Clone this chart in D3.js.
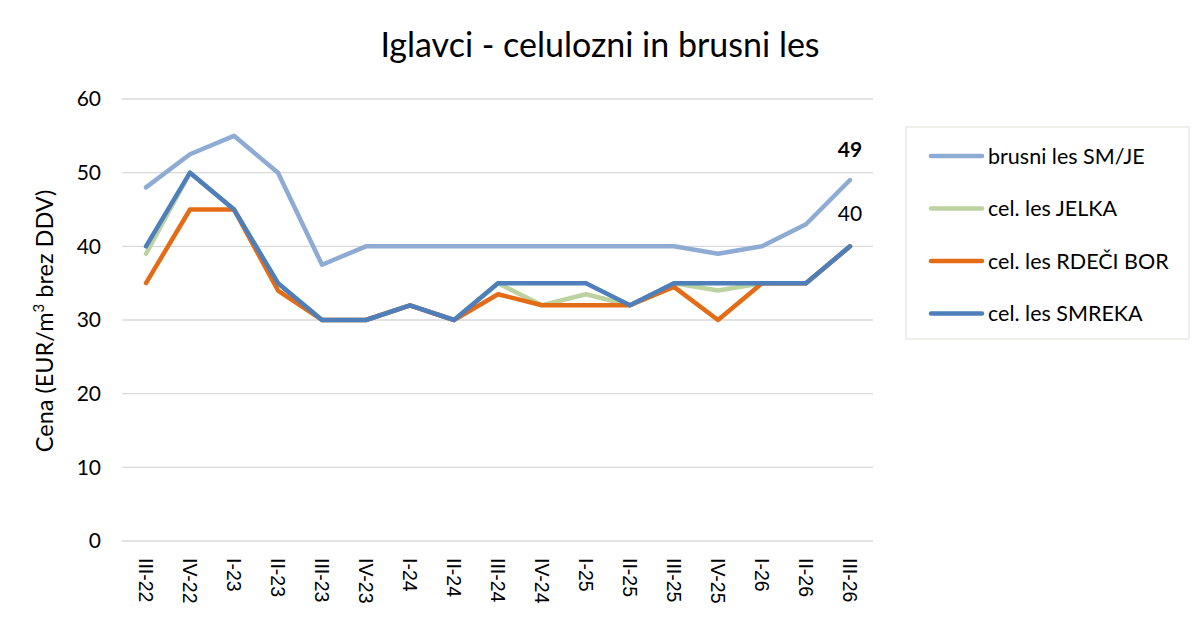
<!DOCTYPE html>
<html>
<head>
<meta charset="utf-8">
<script src="https://cdn.jsdelivr.net/npm/d3@7"></script>
<style>
  body { margin: 0; background: #fff; }
  svg { display: block; }
</style>
</head>
<body>
<div id="chart"></div>
<script>
// Data
const categories = ['III-22', 'IV-22', 'I-23', 'II-23', 'III-23', 'IV-23', 'I-24', 'II-24', 'III-24',
  'IV-24', 'I-25', 'II-25', 'III-25', 'IV-25', 'I-26', 'II-26', 'III-26']
const brusni = [48, 52.5, 55, 50, 37.5, 40, 40, 40, 40, 40, 40, 40, 40, 39, 40, 43, 49]
const jelka = [39, 50, 45, 35, 30, 30, 32, 30, 35, 32, 33.5, 32, 35, 34, 35, 35, 40]
const rdeciBor = [35, 45, 45, 34, 30, 30, 32, 30, 33.5, 32, 32, 32, 34.5, 30, 35, 35, 40]
const smreka = [40, 50, 45, 35, 30, 30, 32, 30, 35, 35, 35, 32, 35, 35, 35, 35, 40]
const yTicks = [0, 10, 20, 30, 40, 50, 60]

const series = [
  { name: 'brusni les SM/JE', values: brusni, color: '#8eabd4' },
  { name: 'cel. les JELKA', values: jelka, color: '#bcd3a0' },
  { name: 'cel. les RDEČI BOR', values: rdeciBor, color: '#e46c17' },
  { name: 'cel. les SMREKA', values: smreka, color: '#4f7fba' }
]

const width = 1200
const height = 626
const plot = { left: 124, right: 872, top: 99, bottom: 541 }
const font = 'Lato, "Open Sans", sans-serif'

const svg = d3.select('#chart')
  .append('svg')
  .attr('width', width)
  .attr('height', height)

// Scales
const xScale = d3.scaleBand()
  .domain(categories)
  .range([plot.left, plot.right])

const yScale = d3.scaleLinear()
  .domain([0, 60])
  .range([plot.bottom, plot.top])

const xPos = d => xScale(d) + xScale.bandwidth() / 2

// Title
svg.append('text')
  .attr('x', 600)
  .attr('y', 57)
  .attr('text-anchor', 'middle')
  .style('font-family', font)
  .style('font-size', '34px')
  .attr('fill', '#000')
  .text('Iglavci - celulozni in brusni les')

// Gridlines
svg.append('g')
  .selectAll('line')
  .data(yTicks)
  .join('line')
  .attr('x1', plot.left - 2)
  .attr('x2', plot.right + 1)
  .attr('y1', d => yScale(d))
  .attr('y2', d => yScale(d))
  .attr('stroke', '#d9d9d9')
  .attr('stroke-width', 1.3)

// Y axis
const yAxis = d3.axisLeft(yScale)
  .tickValues(yTicks)
  .tickSize(0)
  .tickPadding(23)

const yAxisGroup = svg.append('g')
  .attr('transform', `translate(${plot.left}, 0)`)
  .call(yAxis)
yAxisGroup.select('.domain').remove()
yAxisGroup.selectAll('text')
  .style('font-family', font)
  .style('font-size', '21px')
  .attr('fill', '#000')

// Y title
const yTitle = svg.append('text')
  .attr('transform', 'translate(53, 321) rotate(-90)')
  .attr('text-anchor', 'middle')
  .style('font-family', font)
  .style('font-size', '23.5px')
  .attr('fill', '#000')
yTitle.append('tspan').text('Cena (EUR/m')
yTitle.append('tspan').attr('baseline-shift', 'super').style('font-size', '15px').text('3')
yTitle.append('tspan').text(' brez DDV)')

// X axis
const xAxis = d3.axisBottom(xScale).tickSize(0)
const xAxisGroup = svg.append('g')
  .attr('transform', `translate(0, ${plot.bottom})`)
  .call(xAxis)
xAxisGroup.select('.domain').remove()
xAxisGroup.selectAll('text')
  .attr('transform', 'rotate(90)')
  .attr('x', 17)
  .attr('y', 0)
  .attr('dy', '0.35em')
  .style('text-anchor', 'start')
  .style('font-family', '"Liberation Sans", Arial, sans-serif')
  .style('font-size', '19.5px')
  .attr('fill', '#000')

// Lines
const line = d3.line()
  .x((d, i) => xPos(categories[i]))
  .y(d => yScale(d))

svg.append('g')
  .selectAll('path')
  .data(series)
  .join('path')
  .attr('d', d => line(d.values))
  .attr('fill', 'none')
  .attr('stroke', d => d.color)
  .attr('stroke-width', 4.5)
  .attr('stroke-linejoin', 'round')
  .attr('stroke-linecap', 'round')

// Data labels on the last point
const last = categories.length - 1
svg.append('text')
  .attr('x', xPos(categories[last]))
  .attr('y', yScale(brusni[last]) - 23)
  .attr('text-anchor', 'middle')
  .style('font-family', font)
  .style('font-size', '21px')
  .style('font-weight', 'bold')
  .text(brusni[last])

svg.append('text')
  .attr('x', xPos(categories[last]))
  .attr('y', yScale(smreka[last]) - 25)
  .attr('text-anchor', 'middle')
  .style('font-family', font)
  .style('font-size', '21px')
  .text(smreka[last])

// Legend
const legend = svg.append('g')
  .attr('transform', 'translate(906, 127)')

legend.append('rect')
  .attr('width', 283)
  .attr('height', 212)
  .attr('fill', '#fff')
  .attr('stroke', '#e6e6e0')
  .attr('stroke-width', 1.3)

const items = legend.selectAll('g')
  .data(series)
  .join('g')
  .attr('transform', (d, i) => `translate(0, ${29 + i * 52.5})`)

items.append('line')
  .attr('x1', 25)
  .attr('x2', 76)
  .attr('stroke', d => d.color)
  .attr('stroke-width', 4.5)
  .attr('stroke-linecap', 'round')

items.append('text')
  .attr('x', 82)
  .attr('dy', '0.35em')
  .style('font-family', font)
  .style('font-size', '21.5px')
  .attr('fill', '#000')
  .text(d => d.name)
</script>
</body>
</html>
